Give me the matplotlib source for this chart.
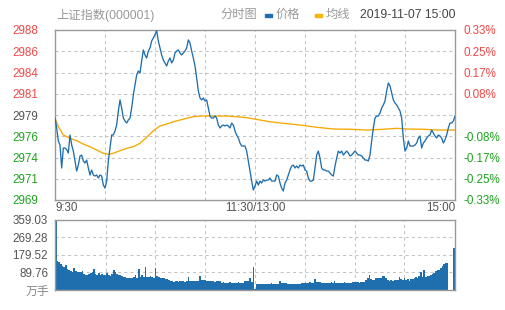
import numpy as np
import matplotlib
matplotlib.use('Agg')
import matplotlib.pyplot as plt
from matplotlib.patches import Rectangle

# ---------------- data ----------------
prev_close = 2978.60
pct_range = 0.0033

price_0930 = [2978.25, 2977.10, 2975.59, 2975.13, 2972.47, 2974.78, 2974.78, 2974.60, 2974.20, 2976.29,
              2975.13, 2974.43, 2973.28, 2972.12, 2972.81, 2973.86, 2973.97, 2973.28, 2973.05, 2973.39,
              2972.47, 2971.66, 2972.24, 2971.66, 2971.54, 2971.66, 2971.31, 2971.66, 2971.54, 2970.50,
              2970.15, 2970.96, 2973.28, 2974.78, 2976.29, 2976.29, 2976.75, 2977.44, 2979.06, 2980.34,
              2979.41, 2978.25, 2977.91, 2977.67, 2978.02, 2978.25, 2979.41, 2980.91, 2982.07, 2983.23,
              2983.69, 2983.46, 2984.85, 2986.12, 2985.54, 2985.19, 2986.00, 2986.35, 2987.16, 2987.51,
              2987.90, 2988.35]
price_1032 = [2987.16, 2986.35, 2985.54, 2984.96, 2984.62, 2984.27, 2984.85, 2985.19, 2984.62, 2984.96,
              2985.77, 2986.00, 2986.12, 2985.77, 2985.54, 2985.77, 2986.00, 2986.35, 2987.28, 2986.93,
              2986.00, 2985.19, 2984.27, 2982.88, 2981.38, 2980.57, 2980.34, 2980.57, 2980.22, 2980.34,
              2979.41, 2978.48, 2978.25, 2978.25, 2978.48, 2978.25, 2977.44, 2977.10, 2977.33, 2977.44,
              2977.33, 2977.44, 2977.33, 2977.10, 2977.67, 2977.44, 2976.75, 2976.29, 2975.94, 2975.36,
              2975.01, 2975.01, 2975.01, 2974.43, 2973.28, 2972.12, 2970.96, 2969.92, 2970.39, 2970.96]
price_1302 = [2970.50, 2970.96, 2970.73, 2971.08, 2970.96, 2971.08, 2971.08, 2971.31, 2970.96, 2970.96,
              2970.96, 2971.66, 2971.54, 2970.73, 2970.15, 2969.81, 2970.73, 2971.08, 2971.66, 2972.24,
              2972.70, 2972.81, 2972.47, 2972.70, 2972.47, 2972.81, 2972.70, 2972.81, 2972.24, 2972.12,
              2971.31, 2970.96, 2970.96, 2971.08, 2972.47, 2973.97, 2974.43, 2973.62, 2972.47, 2972.24,
              2972.24, 2972.12, 2972.12, 2971.89, 2971.66, 2971.54, 2972.70, 2973.62, 2974.43, 2974.20,
              2974.43, 2973.97, 2974.20, 2974.43, 2974.20, 2973.86, 2973.97, 2974.20, 2974.43, 2974.20]
price_1402 = [2973.97, 2973.97, 2973.86, 2973.62, 2973.39, 2973.39, 2973.28, 2973.97, 2975.59, 2977.10,
              2978.25, 2978.48, 2978.48, 2978.83, 2979.41, 2979.76, 2980.22, 2981.38, 2982.30, 2981.96,
              2981.15, 2980.34, 2979.99, 2979.76, 2979.41, 2979.06, 2978.25, 2975.94, 2974.43, 2974.78,
              2975.59, 2975.01, 2975.01, 2975.01, 2975.13, 2975.36, 2975.94, 2976.17, 2974.78, 2975.36,
              2975.59, 2975.94, 2976.17, 2976.29, 2976.86, 2976.52, 2976.17, 2975.94, 2976.29, 2976.17,
              2975.94, 2975.36, 2975.71, 2976.29, 2977.10, 2977.67, 2977.67, 2977.91, 2978.48]

avg_minute = [0, 2, 5, 9, 13, 17, 21, 25, 29, 32, 35, 39, 43, 47, 51, 55, 59, 63, 67, 71,
              75, 79, 83, 87, 91, 95, 99, 103, 109, 115, 123, 129, 137, 147, 157, 167, 177, 187, 197, 205,
              211, 221, 229, 240]
avg_price = [2978.22, 2977.25, 2976.29, 2975.90, 2975.63, 2975.24, 2974.93, 2974.55, 2974.17, 2974.05,
             2974.17, 2974.47, 2974.75, 2974.93, 2975.33, 2976.02, 2976.78, 2977.33, 2977.56, 2977.82,
             2978.02, 2978.22, 2978.40, 2978.48, 2978.48, 2978.48, 2978.48, 2978.48, 2978.40, 2978.29,
             2978.02, 2977.82, 2977.64, 2977.44, 2977.18, 2976.98, 2976.95, 2976.86, 2976.95, 2977.06,
             2976.98, 2976.95, 2976.86, 2976.86]

vol_am1 = [359.03, 149, 145, 132, 125, 116, 128, 108, 103, 97,
           94, 111, 97, 94, 91, 94, 97, 80, 77, 77,
           80, 85, 91, 106, 80, 77, 85, 77, 80, 77,
           77, 85, 77, 74, 80, 103, 91, 80, 77, 77,
           72, 68, 65, 60, 60, 60, 63, 68, 77, 63,
           108, 68, 77, 68, 120, 68, 68, 74, 68, 63,
           111, 74]
vol_am2 = [66, 64, 60, 62, 58, 56, 51,
           47, 45, 43, 47, 45, 43, 47, 45, 47, 43, 47, 68,
           47, 45, 47, 45, 47, 45, 74, 51, 51, 49,
           47, 45, 47, 45, 47, 43, 45, 47, 45,
           38, 40, 38, 36, 38, 40, 38, 38,
           38, 36, 40, 38, 36, 38, 47, 45, 47, 60, 43, 120, 3]
vol_pm = [31, 31, 31, 32, 31, 31, 32, 31, 31, 38,
          31, 31, 32, 31, 46, 34, 34, 34, 34, 32,
          32, 32, 32, 32, 32, 32, 32, 38, 38, 38,
          38, 38, 43, 34, 38, 56, 43, 43, 40, 38,
          38, 38, 38, 36, 34, 43, 38, 46, 38, 38,
          38, 38, 38, 43, 38, 38, 38, 38, 40, 40,
          40, 43, 38, 43, 43, 43, 51, 60, 77, 56,
          51, 53, 60, 60, 63, 60, 72, 72, 60, 51,
          48, 51, 48, 51, 53, 51, 68, 56, 51, 60,
          51, 56, 48, 56, 56, 63, 68, 63, 74, 94,
          68, 103, 68, 72, 72, 77, 80, 85, 97, 103,
          103, 114, 125, 132, 137, 140, 0.5, 0.5, 0.5, 214]

price_labels = ['2969', '2971', '2974', '2976', '2979', '2981', '2984', '2986', '2988']
pct_labels = ['-0.33%', '-0.25%', '-0.17%', '-0.08%', '', '0.08%', '0.17%', '0.25%', '0.33%']
vol_ticks = [89.76, 179.52, 269.28, 359.03]
vol_labels = ['89.76', '179.52', '269.28', '359.03']
time_labels = ['9:30', '11:30/13:00', '15:00']

# ---------------- styling ----------------
plt.rcParams['font.family'] = ['Liberation Sans', 'Noto Sans CJK SC', 'DejaVu Sans']
RED = '#f24848'
GREEN = '#1fa31f'
GRAYTXT = '#555555'
LINE = '#1f6fae'
AVG = '#f5a800'
SPINE = '#999999'
GRID = '#c4c4c4'

W, H = 505, 310
fig = plt.figure(figsize=(W / 100, H / 100), dpi=100)

def fx(px):
    return px / W

def fy(py):
    return 1 - py / H

prices = np.array(price_0930 + price_1032 + price_1302 + price_1402)
vols = np.array(vol_am1 + vol_am2 + vol_pm)
minutes = np.arange(len(prices))

lo = prev_close * (1 - pct_range)
hi = prev_close * (1 + pct_range)
yt = np.linspace(lo, hi, 9)
grid_minutes = [30, 60, 90, 120, 150, 180, 210]

# ---------------- price axes ----------------
ax = fig.add_axes([fx(55), fy(200), 400 / W, 170 / H])
ax.set_xlim(0, 240)
ax.set_ylim(lo, hi)
for y in yt[1:-1]:
    ax.axhline(y, color=GRID, lw=0.75, ls=(0, (3, 3)), zorder=0)
for m in grid_minutes:
    ax.axvline(m, color=GRID, lw=0.75, ls=(0, (3, 3)), zorder=0)
ax.plot(avg_minute, avg_price, color=AVG, lw=0.95, zorder=2)
ax.plot(minutes, prices, color=LINE, lw=0.95, zorder=3)

ax.set_yticks(yt)
ax.set_yticklabels(price_labels, fontsize=8.4)
ax.tick_params(axis='y', length=0, pad=12)
for lab, y in zip(ax.get_yticklabels(), yt):
    if y > prev_close + 0.5:
        lab.set_color(RED)
    elif y < prev_close - 0.5:
        lab.set_color(GREEN)
    else:
        lab.set_color(GRAYTXT)

ax.set_xticks([0, 120, 240])
ax.set_xticklabels(time_labels, fontsize=8.4, color=GRAYTXT)
ax.tick_params(axis='x', length=0, pad=1.5)
xl = ax.get_xticklabels()
xl[0].set_ha('left')
xl[2].set_ha('right')
for s in ax.spines.values():
    s.set_color(SPINE)
    s.set_linewidth(1.0)

ax2 = ax.twinx()
ax2.set_ylim(lo, hi)
ax2.set_yticks(yt)
ax2.set_yticklabels(pct_labels, fontsize=8.4)
ax2.tick_params(axis='y', length=0, pad=6)
for lab, y in zip(ax2.get_yticklabels(), yt):
    lab.set_color(RED if y > prev_close else GREEN)
for s in ax2.spines.values():
    s.set_visible(False)

# ---------------- volume axes ----------------
vx = fig.add_axes([fx(55), fy(290), 400 / W, 70 / H])
vx.set_xlim(-0.5, 240.5)
vx.set_ylim(0, 359.03)
for v in vol_ticks[:-1]:
    vx.axhline(v, color=GRID, lw=0.75, ls=(0, (3, 3)), zorder=0)
for m in grid_minutes:
    vx.axvline(m, color=GRID, lw=0.75, ls=(0, (3, 3)), zorder=0)
vx.bar(minutes, vols, width=1.0, color=LINE, linewidth=0, zorder=2)
vx.set_yticks(vol_ticks)
vx.set_yticklabels(vol_labels, fontsize=8.4, color=GRAYTXT)
vx.tick_params(axis='y', length=0, pad=5)
vx.set_xticks([])
for s in vx.spines.values():
    s.set_color(SPINE)
    s.set_linewidth(1.0)
fig.text(fx(49), fy(293), '万手', fontsize=8.6, color='#888888', ha='right', va='center')

# ---------------- header ----------------
fig.text(fx(56), fy(15), '上证指数(000001)', fontsize=8.8, color='#999999', ha='left', va='center')
fig.text(fx(220), fy(15), '分时图', fontsize=8.8, color='#999999', ha='left', va='center')
fig.patches.append(Rectangle((fx(265), fy(16.5)), 7 / W, 3 / H, transform=fig.transFigure,
                             color=LINE, figure=fig))
fig.text(fx(276), fy(15), '价格', fontsize=8.8, color='#999999', ha='left', va='center')
fig.patches.append(Rectangle((fx(315), fy(16.5)), 7 / W, 3 / H, transform=fig.transFigure,
                             color='#ffb300', figure=fig))
fig.text(fx(326), fy(15), '均线', fontsize=8.8, color='#999999', ha='left', va='center')
fig.text(fx(455), fy(15), '2019-11-07 15:00', fontsize=8.8, color='#444444', ha='right', va='center')

fig.savefig('out.png', dpi=100, facecolor='white')
